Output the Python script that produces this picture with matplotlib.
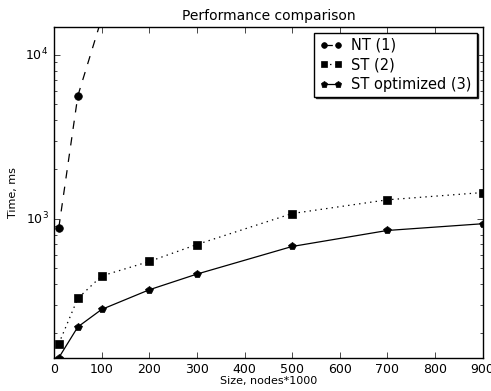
import matplotlib
matplotlib.use("Agg")
import matplotlib.pyplot as plt

plt.style.use("classic")

sizes = [10, 50, 100, 200, 300, 500, 700, 900]
nt_sizes = [10, 50, 100]
nt_times = [880, 5620, 16700]
st_times = [173, 327, 448, 549, 697, 1077, 1306, 1446]
st_opt_times = [142, 219, 280, 369, 460, 678, 849, 933]

fig = plt.figure(figsize=(4.91, 3.91), dpi=100, facecolor="white")
ax = fig.add_axes([0.11, 0.085, 0.873, 0.846])

ax.plot(nt_sizes, nt_times, "k--o", markersize=5.5, lw=0.9, label="NT (1)")
ax.plot(sizes, st_times, "k:s", markersize=6, lw=0.9, label="ST (2)")
ax.plot(sizes, st_opt_times, "k-p", markersize=6, lw=0.9, label="ST optimized (3)")

ax.set_yscale("log")
ax.set_xlim(0, 900)
ax.set_ylim(142, 14800)
ax.set_xticks(range(0, 901, 100))

ax.set_title("Performance comparison", fontsize=10)
ax.set_xlabel("Size, nodes*1000", fontsize=8, labelpad=0)
ax.set_ylabel("Time, ms", fontsize=8)
ax.tick_params(labelsize=9)

ax.legend(loc="upper right", numpoints=2, fontsize=10.5, markerscale=0.75,
          shadow={"ox": 1.2, "oy": -1.2, "color": "0.15", "alpha": 1.0},
          borderaxespad=0.4, handlelength=1.6, handletextpad=0.6,
          labelspacing=0.3, borderpad=0.35)

fig.savefig("out.png", dpi=100, facecolor="white")
